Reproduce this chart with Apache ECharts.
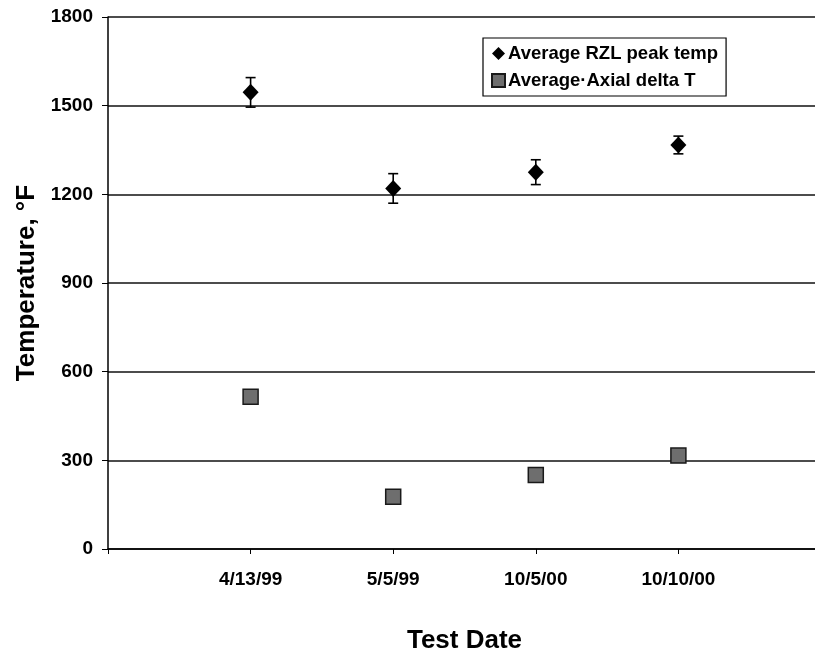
<!DOCTYPE html>
<html>
<head>
<meta charset="utf-8">
<script src="https://cdn.jsdelivr.net/npm/echarts@6/dist/echarts.min.js"></script>
<style>
  html, body { margin: 0; padding: 0; background: #fff; }
  #main { width: 815px; height: 650px; }
</style>
</head>
<body>
<div id="main"></div>
<script>
// test dates, placed at x = 1..4 on a 0..5 axis
var testDates = ['4/13/99', '5/5/99', '10/5/00', '10/10/00']
var peakTemp = [1545, 1220, 1275, 1367]
var peakErr = [50, 50, 42, 30]
var axialDelta = [515, 177, 250, 316]

var font = 'Arial, "Liberation Sans", sans-serif'

var peakData = peakTemp.map(function (v, i) { return [i + 1, v] })
var axialData = axialDelta.map(function (v, i) { return [i + 1, v] })
var errData = peakTemp.map(function (v, i) { return [i + 1, v - peakErr[i], v + peakErr[i]] })

var myChart = echarts.init(document.getElementById('main'))
var option = {
  backgroundColor: '#fff',
  animation: false,
  grid: { left: 108, right: -6, top: 17, bottom: 101, outerBoundsMode: 'none' },
  legend: {
    orient: 'vertical',
    left: 483,
    top: 38,
    padding: [6, 8, 6, 8],
    itemGap: 8,
    itemWidth: 13,
    itemHeight: 13,
    borderColor: '#000',
    borderWidth: 1.2,
    backgroundColor: '#fff',
    textStyle: { fontFamily: font, fontWeight: 'bold', fontSize: 18.5, color: '#000', padding: [0, 0, 0, -2] },
    data: [
      { name: 'Average RZL peak temp', icon: 'diamond' },
      { name: 'Average·Axial delta T', icon: 'rect' }
    ]
  },
  xAxis: {
    type: 'value',
    min: 0,
    max: 5,
    interval: 1,
    name: 'Test Date',
    nameLocation: 'middle',
    nameGap: 79,
    nameTextStyle: { fontFamily: font, fontWeight: 'bold', fontSize: 26, color: '#000' },
    axisLine: { lineStyle: { color: '#000', width: 1.5 } },
    axisTick: { length: 5, lineStyle: { color: '#000', width: 1 } },
    axisLabel: {
      margin: 21,
      fontFamily: font, fontWeight: 'bold', fontSize: 19, color: '#000',
      formatter: function (v) { return testDates[v - 1] || '' }
    },
    splitLine: { show: false }
  },
  yAxis: {
    type: 'value',
    min: 0,
    max: 1800,
    interval: 300,
    name: 'Temperature, °F',
    nameLocation: 'middle',
    nameGap: 68,
    nameTextStyle: { fontFamily: font, fontWeight: 'bold', fontSize: 26, color: '#000' },
    axisLine: { show: true, lineStyle: { color: '#000', width: 1.5 } },
    axisTick: { show: true, length: 6, lineStyle: { color: '#000', width: 1 } },
    axisLabel: {
      margin: 15, fontFamily: font, fontWeight: 'bold', fontSize: 19, color: '#000',
      formatter: function (v) { return String(v) }
    },
    splitLine: { lineStyle: { color: '#111', width: 1.5 } }
  },
  series: [
    {
      name: 'err',
      type: 'custom',
      z: 3,
      data: errData,
      renderItem: function (params, api) {
        var x = api.value(0)
        var lo = api.coord([x, api.value(1)])
        var hi = api.coord([x, api.value(2)])
        var w = 5
        var st = { stroke: '#000', lineWidth: 1.6 }
        return {
          type: 'group',
          children: [
            { type: 'line', shape: { x1: lo[0], y1: lo[1], x2: hi[0], y2: hi[1] }, style: st },
            { type: 'line', shape: { x1: lo[0] - w, y1: lo[1], x2: lo[0] + w, y2: lo[1] }, style: st },
            { type: 'line', shape: { x1: hi[0] - w, y1: hi[1], x2: hi[0] + w, y2: hi[1] }, style: st }
          ]
        }
      }
    },
    {
      name: 'Average RZL peak temp',
      type: 'scatter',
      z: 4,
      symbol: 'diamond',
      symbolSize: [16, 17],
      itemStyle: { color: '#000', opacity: 1 },
      data: peakData
    },
    {
      name: 'Average·Axial delta T',
      type: 'scatter',
      z: 4,
      symbol: 'rect',
      symbolSize: 15,
      itemStyle: { color: '#6e6e6e', borderColor: '#1a1a1a', borderWidth: 1.5, opacity: 1 },
      data: axialData
    }
  ]
}
myChart.setOption(option)
</script>
</body>
</html>
